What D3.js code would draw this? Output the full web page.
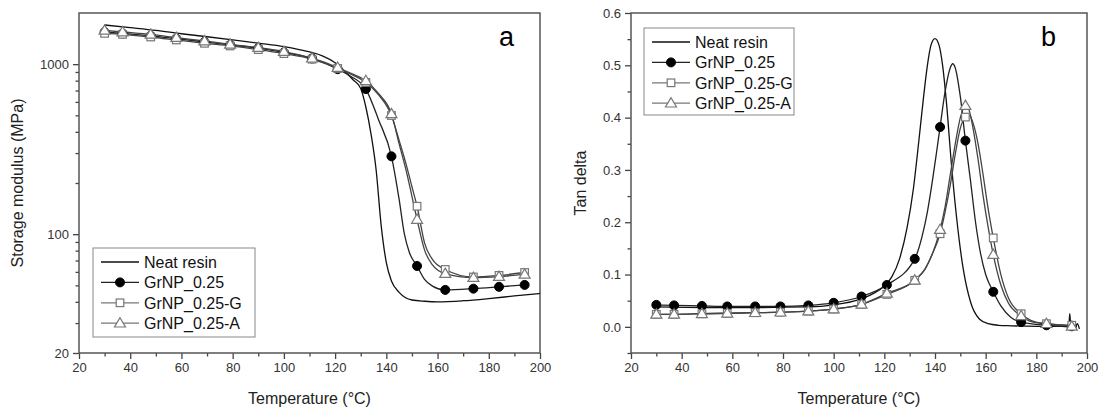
<!DOCTYPE html>
<html lang="en">
<head>
<meta charset="UTF-8"/>
<title>DMA - storage modulus and tan delta</title>
<script src="https://d3js.org/d3.v7.min.js"></script>
<style>
    body { margin: 0; background: #fff; }
    text { font-family: "Liberation Sans", Arial, sans-serif; }
</style>
</head>
<body>
<script>
    // Temperatures where the markers sit (same for both panels)
    var markerTemp = [30, 37, 48, 58, 69, 79, 90, 100, 111, 121, 132, 142, 152, 163, 174, 184, 194];

    // ---- panel a : storage modulus (MPa) ----
    var modNeatTemp = [30, 40, 50, 60, 70, 80, 90, 100, 110, 115, 120, 124, 127, 130, 132, 134, 136, 138, 140, 142, 145, 150, 155, 160, 170, 180, 190, 200];
    var modNeat = [1700, 1640, 1580, 1510, 1450, 1390, 1330, 1270, 1180, 1120, 1020, 900, 810, 720, 560, 390, 240, 112, 68, 53, 45.5, 41, 40.3, 40, 40.6, 41.8, 43.3, 44.8];

    var mod025 = [1545, 1515, 1468, 1413, 1352, 1298, 1242, 1172, 1080, 935, 714, 287, 65, 47, 47.8, 49, 50.3];
    var mod025ExtraTemp = [126, 137, 145, 147, 149, 155, 158];
    var mod025Extra = [850, 470, 160, 101, 78, 54, 49.5];

    var modG = [1518, 1498, 1445, 1388, 1327, 1280, 1218, 1154, 1070, 944, 781, 499, 146, 62, 56, 57.2, 59.5];
    var modGExtraTemp = [126, 137, 145, 148, 150, 155, 158];
    var modGExtra = [875, 660, 356, 249, 190, 88, 71];

    var modA = [1580, 1546, 1498, 1432, 1369, 1309, 1251, 1186, 1084, 956, 799, 510, 122, 58.6, 55.5, 56.3, 58];
    var modAExtraTemp = [126, 137, 145, 148, 150, 155, 158];
    var modAExtra = [885, 670, 340, 228, 167, 80, 66];

    // ---- panel b : tan delta ----
    var tanNeatTemp = [30, 50, 70, 90, 100, 110, 115, 120, 123, 126, 129, 131.5, 133.5, 135.5, 137, 138.5, 140, 141.5, 143, 144.5, 146.5, 148.5, 151, 154, 157.5, 161, 165, 170, 180, 190, 192.8, 193.2, 193.6, 194.5, 195.5, 196.2, 197];
    var tanNeat = [0.038, 0.037, 0.037, 0.038, 0.042, 0.052, 0.062, 0.078, 0.096, 0.13, 0.19, 0.265, 0.35, 0.44, 0.5, 0.54, 0.551, 0.54, 0.5, 0.43, 0.31, 0.21, 0.115, 0.048, 0.015, 0.006, 0.003, 0.002, 0.001, 0.001, 0.0, 0.025, 0.0, 0.003, 0.0, 0.006, -0.004];

    var tan025 = [0.042, 0.041, 0.040, 0.039, 0.039, 0.039, 0.041, 0.046, 0.058, 0.080, 0.130, 0.382, 0.356, 0.067, 0.009, 0.003, 0.001];
    var tan025ExtraTemp = [135, 137, 139, 140.5, 144, 146, 147, 148, 150, 154, 156, 158, 160, 166, 170];
    var tan025Extra = [0.175, 0.22, 0.28, 0.33, 0.45, 0.495, 0.503, 0.495, 0.44, 0.28, 0.2, 0.14, 0.1, 0.04, 0.018];

    var tanG = [0.024, 0.024, 0.025, 0.026, 0.027, 0.028, 0.030, 0.034, 0.043, 0.062, 0.089, 0.178, 0.401, 0.170, 0.025, 0.006, 0.003];
    var tanGExtraTemp = [136, 139, 144, 146, 148, 150, 153.5, 155, 157, 159, 161, 166, 169, 178];
    var tanGExtra = [0.11, 0.14, 0.22, 0.27, 0.33, 0.38, 0.405, 0.39, 0.35, 0.29, 0.225, 0.1, 0.055, 0.012];

    var tanA = [0.024, 0.024, 0.025, 0.026, 0.027, 0.028, 0.030, 0.034, 0.043, 0.064, 0.089, 0.186, 0.423, 0.138, 0.021, 0.006, 0.001];
    var tanAExtraTemp = [136, 139, 144, 146, 148, 150, 153, 155, 157, 159, 161, 166, 169, 178];
    var tanAExtra = [0.11, 0.14, 0.23, 0.29, 0.35, 0.40, 0.42, 0.38, 0.32, 0.25, 0.19, 0.08, 0.045, 0.01];

    var seriesNames = ["Neat resin", "GrNP_0.25", "GrNP_0.25-G", "GrNP_0.25-A"];
    var xMajor = [20, 40, 60, 80, 100, 120, 140, 160, 180, 200];
    var xMinor = [30, 50, 70, 90, 110, 130, 150, 170, 190];

    var W = 1099, H = 408;
    var plotTop = 13, plotBottom = 353;

    var svg = d3.select("body")
                .append("svg")
                .attr("width", W)
                .attr("height", H);

    // zip two arrays into points, optionally merged with extra points
    function points(ts, vs, extraT, extraV) {
        var pts = ts.map(function(t, i) { return [t, vs[i]]; });
        if (extraT) {
            extraT.forEach(function(t, i) { pts.push([t, extraV[i]]); });
        }
        return pts.sort(function(a, b) { return a[0] - b[0]; });
    }

    function drawMarker(g, type, x, y) {
        if (type === "circle") {
            g.append("circle").attr("cx", x).attr("cy", y).attr("r", 4.5)
             .attr("fill", "#000").attr("stroke", "#000");
        } else if (type === "square") {
            g.append("rect").attr("x", x - 3.8).attr("y", y - 3.8)
             .attr("width", 7.6).attr("height", 7.6)
             .attr("fill", "#fff").attr("stroke", "#777").attr("stroke-width", 1.2);
        } else if (type === "triangle") {
            g.append("path")
             .attr("d", "M" + x + "," + (y - 5.5) + "L" + (x + 5.5) + "," + (y + 3.8) + "L" + (x - 5.5) + "," + (y + 3.8) + "Z")
             .attr("fill", "#fff").attr("stroke", "#777").attr("stroke-width", 1.2);
        }
    }

    function drawPanel(p) {
        var xScale = d3.scaleLinear().domain([20, 200]).range([p.left, p.right]);
        var yScale = p.yScale;
        var g = svg.append("g");

        // clip
        var clipId = "clip" + p.letter;
        svg.append("clipPath").attr("id", clipId)
           .append("rect")
           .attr("x", p.left).attr("y", plotTop)
           .attr("width", p.right - p.left).attr("height", plotBottom - plotTop);

        // axes: major + minor ticks, outward
        var xAxis = d3.axisBottom(xScale).tickValues(xMajor).tickSize(6).tickSizeOuter(0)
                      .tickFormat(d3.format("d")).tickPadding(4);
        var xAxisMinor = d3.axisBottom(xScale).tickValues(xMinor).tickSize(3.5).tickSizeOuter(0)
                      .tickFormat("");
        var yAxis = d3.axisLeft(yScale).tickValues(p.yMajor).tickSize(6).tickSizeOuter(0)
                      .tickFormat(p.yFormat).tickPadding(4);
        var yAxisMinor = d3.axisLeft(yScale).tickValues(p.yMinor).tickSize(3.5).tickSizeOuter(0)
                      .tickFormat("");

        [[xAxis, "x"], [xAxisMinor, "x"], [yAxis, "y"], [yAxisMinor, "y"]].forEach(function(a) {
            var ag = g.append("g")
                      .attr("transform", a[1] === "x" ? "translate(0," + plotBottom + ")" : "translate(" + p.left + ",0)")
                      .call(a[0]);
            ag.select(".domain").remove();
            ag.selectAll("line").attr("stroke", "#444").attr("stroke-width", 1.3);
            ag.selectAll("text").attr("fill", "#333").attr("font-size", 13)
              .style("font-family", "'Liberation Sans', Arial, sans-serif");
        });

        // frame
        g.append("rect")
         .attr("x", p.left).attr("y", plotTop)
         .attr("width", p.right - p.left).attr("height", plotBottom - plotTop)
         .attr("fill", "none").attr("stroke", "#555").attr("stroke-width", 1.5);

        // axis titles
        g.append("text")
         .attr("x", (p.left + p.right) / 2).attr("y", 404)
         .attr("text-anchor", "middle").attr("font-size", 16).attr("fill", "#222")
         .text("Temperature (\u00B0C)");
        g.append("text")
         .attr("transform", "translate(" + p.yTitleX + "," + ((plotTop + plotBottom) / 2) + ") rotate(-90)")
         .attr("text-anchor", "middle").attr("font-size", 16).attr("fill", "#222")
         .text(p.yTitle);

        // panel letter
        g.append("text")
         .attr("x", p.letterX).attr("y", 46)
         .attr("font-size", 27).attr("fill", "#000")
         .text(p.letter);

        var line = d3.line()
                     .x(function(d) { return xScale(d[0]); })
                     .y(function(d) { return yScale(d[1]); })
                     .curve(d3.curveMonotoneX);

        var plot = g.append("g").attr("clip-path", "url(#" + clipId + ")");

        p.series.forEach(function(s) {
            plot.append("path")
                .datum(s.line)
                .attr("d", line)
                .attr("fill", "none")
                .attr("stroke", s.stroke)
                .attr("stroke-width", 1.3);
        });
        p.series.forEach(function(s) {
            if (!s.marker) return;
            s.markers.forEach(function(d) {
                drawMarker(plot, s.marker, xScale(d[0]), yScale(d[1]));
            });
        });

        // legend
        var lg = g.append("g");
        lg.append("rect")
          .attr("x", p.legend.x).attr("y", p.legend.y)
          .attr("width", p.legend.w).attr("height", p.legend.h)
          .attr("fill", "#fff").attr("stroke", "#888").attr("stroke-width", 1);
        p.series.forEach(function(s, i) {
            var cy = p.legend.y + 14 + i * 20.4;
            var x0 = p.legend.x + 8;
            lg.append("line")
              .attr("x1", x0).attr("x2", x0 + 38)
              .attr("y1", cy).attr("y2", cy)
              .attr("stroke", s.legendStroke).attr("stroke-width", 1.3);
            if (s.marker) drawMarker(lg, s.marker, x0 + 19, cy);
            lg.append("text")
              .attr("x", x0 + 43).attr("y", cy + 6)
              .attr("font-size", 16).attr("fill", "#111")
              .text(seriesNames[i]);
        });
    }

    // panel a
    drawPanel({
        letter: "a",
        left: 79, right: 540,
        yScale: d3.scaleLog().domain([20, 2000]).range([plotBottom, plotTop]),
        yMajor: [20, 100, 1000],
        yMinor: [30, 40, 50, 60, 70, 80, 90, 200, 300, 400, 500, 600, 700, 800, 900],
        yFormat: d3.format("d"),
        yTitle: "Storage modulus (MPa)",
        yTitleX: 23,
        letterX: 499,
        legend: { x: 93, y: 248, w: 162, h: 89 },
        series: [
            { line: points(modNeatTemp, modNeat), stroke: "#111", legendStroke: "#111" },
            { line: points(markerTemp, mod025, mod025ExtraTemp, mod025Extra), markers: points(markerTemp, mod025),
              marker: "circle", stroke: "#222", legendStroke: "#222" },
            { line: points(markerTemp, modG, modGExtraTemp, modGExtra), markers: points(markerTemp, modG),
              marker: "square", stroke: "#444", legendStroke: "#777" },
            { line: points(markerTemp, modA, modAExtraTemp, modAExtra), markers: points(markerTemp, modA),
              marker: "triangle", stroke: "#444", legendStroke: "#777" }
        ]
    });

    // panel b
    drawPanel({
        letter: "b",
        left: 631, right: 1087,
        yScale: d3.scaleLinear().domain([-0.05, 0.6]).range([plotBottom, plotTop]),
        yMajor: [0, 0.1, 0.2, 0.3, 0.4, 0.5, 0.6],
        yMinor: [-0.05, 0.05, 0.15, 0.25, 0.35, 0.45, 0.55],
        yFormat: d3.format(".1f"),
        yTitle: "Tan delta",
        yTitleX: 586,
        letterX: 1041,
        legend: { x: 644, y: 28, w: 150, h: 87 },
        series: [
            { line: points(tanNeatTemp, tanNeat), stroke: "#111", legendStroke: "#111" },
            { line: points(markerTemp, tan025, tan025ExtraTemp, tan025Extra), markers: points(markerTemp, tan025),
              marker: "circle", stroke: "#222", legendStroke: "#222" },
            { line: points(markerTemp, tanG, tanGExtraTemp, tanGExtra), markers: points(markerTemp, tanG),
              marker: "square", stroke: "#444", legendStroke: "#777" },
            { line: points(markerTemp, tanA, tanAExtraTemp, tanAExtra), markers: points(markerTemp, tanA),
              marker: "triangle", stroke: "#444", legendStroke: "#777" }
        ]
    });
</script>
</body>
</html>
